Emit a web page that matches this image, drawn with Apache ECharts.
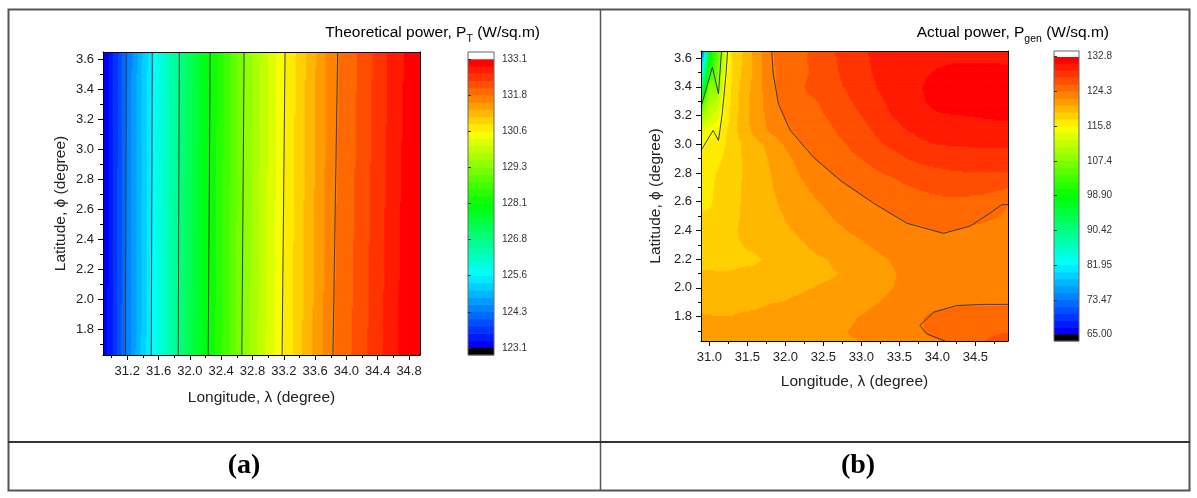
<!DOCTYPE html>
<html><head><meta charset="utf-8">
<script src="https://cdn.jsdelivr.net/npm/echarts@6/dist/echarts.min.js"></script>
<style>html,body{margin:0;padding:0;background:#fff}#c{width:1197px;height:498px}</style>
</head><body><div id="c"></div>
<script>
// ================= DATA =================
// (a) Theoretical power P_T : grid of longitude x latitude
const lonT = [30.89, 31.0, 31.1, 31.2, 31.3, 31.4, 31.5, 31.6, 31.7, 31.8, 31.9, 32.0, 32.1, 32.2, 32.3, 32.4, 32.5, 32.6, 32.7, 32.8, 32.9, 33.0, 33.1, 33.2, 33.3, 33.4, 33.5, 33.6, 33.7, 33.8, 33.9, 34.0, 34.1, 34.2, 34.3, 34.4, 34.5, 34.6, 34.7, 34.8, 34.9, 34.94];
const latT = [1.63, 3.65];
const pT_lat163 = [123.1, 123.55, 124.00, 124.44, 124.82, 125.20, 125.57, 125.94, 126.30, 126.66, 127.01, 127.34, 127.66, 127.99, 128.29, 128.58, 128.87, 129.16, 129.44, 129.68, 129.92, 130.17, 130.41, 130.64, 130.83, 131.03, 131.22, 131.41, 131.60, 131.80, 131.92, 132.03, 132.14, 132.26, 132.39, 132.52, 132.65, 132.78, 132.90, 132.98, 133.07, 133.10];
const pT_lat365 = [123.05, 123.49, 123.94, 124.38, 124.75, 125.13, 125.50, 125.87, 126.22, 126.58, 126.93, 127.26, 127.58, 127.91, 128.21, 128.50, 128.79, 129.08, 129.36, 129.60, 129.84, 130.09, 130.33, 130.56, 130.75, 130.95, 131.14, 131.33, 131.52, 131.72, 131.84, 131.95, 132.06, 132.18, 132.31, 132.44, 132.57, 132.70, 132.82, 132.91, 133.00, 133.04];
// contour lines of (a): longitude where each line meets bottom / top edge
const tLineBottom = [31.176, 31.507, 31.851, 32.234, 32.664, 33.178, 33.828];
const tLineTop    = [31.189, 31.520, 31.865, 32.260, 32.693, 33.216, 33.888];
const tRange = [123.1, 133.1];
const tBarTicks  = [123.1, 124.35, 125.6, 126.85, 128.1, 129.35, 130.6, 131.85, 133.1];
const tBarLabels = ['123.1', '124.3', '125.6', '126.8', '128.1', '129.3', '130.6', '131.8', '133.1'];
const tXTicks = [31.2, 31.6, 32.0, 32.4, 32.8, 33.2, 33.6, 34.0, 34.4, 34.8];
const tXMinor = [31.0, 31.4, 31.8, 32.2, 32.6, 33.0, 33.4, 33.8, 34.2, 34.6];

// (b) Actual power P_gen : grid of longitude x latitude
const lonG = [30.89, 31.0, 31.1, 31.2, 31.3, 31.4, 31.6, 31.8, 32.0, 32.2, 32.4, 32.6, 32.8, 33.0, 33.2, 33.4, 33.6, 33.8, 34.0, 34.2, 34.4, 34.6, 34.8, 34.93];
const latG = [1.63, 1.7, 1.8, 1.9, 2.0, 2.1, 2.2, 2.4, 2.6, 2.8, 2.9, 3.0, 3.1, 3.2, 3.3, 3.4, 3.5, 3.65];
const pGen163 = [121.5, 121.5, 121.5, 121.5, 121.6, 121.6, 121.7, 121.9, 122.0, 122.2, 122.4, 122.5, 122.5, 122.6, 122.9, 123.3, 123.6, 123.9, 124.2, 124.8, 125.4, 126.0, 126.4, 126.6];
const pGen170 = [121.3, 121.3, 121.3, 121.3, 121.3, 121.4, 121.5, 121.7, 121.8, 122.0, 122.2, 122.4, 122.6, 122.9, 123.3, 123.7, 124.0, 124.3, 124.8, 125.2, 125.4, 125.7, 125.9, 125.9];
const pGen180 = [121.0, 121.0, 121.0, 121.0, 121.0, 121.1, 121.2, 121.4, 121.5, 121.7, 121.9, 122.1, 122.4, 122.7, 123.1, 123.5, 123.9, 124.3, 124.7, 124.9, 125.0, 125.0, 125.0, 125.0];
const pGen190 = [120.6, 120.6, 120.5, 120.5, 120.5, 120.6, 120.7, 120.9, 121.0, 121.2, 121.4, 121.6, 121.9, 122.2, 122.6, 122.9, 123.3, 123.7, 124.0, 124.1, 124.2, 124.2, 124.2, 124.2];
const pGen200 = [120.2, 120.1, 120.0, 119.9, 119.9, 120.0, 120.2, 120.4, 120.6, 120.8, 121.0, 121.2, 121.5, 121.9, 122.3, 122.6, 123.0, 123.3, 123.5, 123.6, 123.7, 123.7, 123.7, 123.7];
const pGen210 = [119.4, 119.4, 119.3, 119.3, 119.3, 119.35, 119.5, 119.8, 120.1, 120.4, 120.6, 120.8, 121.1, 121.5, 122.0, 122.5, 122.9, 123.1, 123.3, 123.4, 123.5, 123.5, 123.5, 123.5];
const pGen220 = [118.8, 118.9, 119.0, 119.0, 119.1, 119.1, 119.1, 119.4, 119.9, 120.3, 120.7, 121.0, 121.4, 121.8, 122.3, 122.7, 123.0, 123.2, 123.3, 123.4, 123.4, 123.4, 123.35, 123.3];
const pGen240 = [118.0, 118.3, 118.6, 118.9, 119.1, 119.3, 119.7, 120.2, 120.7, 121.2, 121.7, 122.2, 122.6, 123.0, 123.4, 123.7, 124.0, 124.1, 124.4, 124.3, 124.1, 123.9, 123.7, 123.5];
const pGen260 = [117.3, 117.3, 117.9, 118.4, 118.8, 119.2, 119.9, 120.6, 121.3, 121.9, 122.5, 123.0, 123.5, 124.0, 124.4, 124.8, 125.1, 125.4, 125.6, 125.7, 125.6, 125.4, 125.0, 124.45];
const pGen280 = [116.8, 117.2, 117.6, 118.1, 118.6, 119.1, 120.0, 120.9, 121.8, 122.7, 123.5, 124.3, 124.9, 125.4, 125.85, 126.2, 126.6, 127.0, 127.3, 127.5, 127.6, 127.65, 127.6, 127.6];
const pGen290 = [116.3, 116.8, 117.2, 117.8, 118.5, 119.1, 120.1, 121.1, 122.1, 123.2, 124.4, 125.1, 125.6, 126.0, 126.5, 127.0, 127.7, 128.1, 128.4, 128.5, 128.6, 128.6, 128.6, 128.6];
const pGen300 = [115.4, 116.3, 116.6, 117.4, 118.5, 119.1, 120.3, 121.4, 122.8, 124.2, 125.0, 125.6, 126.0, 126.6, 127.4, 128.0, 128.6, 129.1, 129.4, 129.5, 129.55, 129.6, 129.6, 129.6];
const pGen310 = [113.0, 115.0, 115.5, 117.2, 118.4, 119.6, 121.5, 122.9, 124.0, 124.9, 125.5, 125.85, 126.5, 127.2, 127.95, 128.7, 129.4, 129.9, 130.2, 130.4, 130.5, 130.6, 130.6, 130.6];
const pGen320 = [109.0, 112.0, 113.5, 116.0, 118.3, 119.6, 121.7, 123.2, 124.45, 125.2, 125.7, 126.2, 126.9, 127.7, 128.5, 129.4, 130.1, 130.6, 130.95, 131.0, 131.08, 131.2, 131.3, 131.35];
const pGen330 = [103.0, 110.0, 111.0, 115.9, 118.0, 119.5, 121.8, 123.4, 125.0, 125.5, 125.9, 126.6, 127.4, 128.2, 129.0, 129.8, 130.5, 131.0, 131.5, 131.8, 132.0, 132.2, 132.3, 132.3];
const pGen340 = [90.0, 108.5, 107.3, 115.6, 117.8, 119.3, 121.6, 123.7, 125.4, 125.85, 126.6, 127.3, 127.8, 128.7, 129.4, 130.1, 130.6, 131.1, 131.6, 131.9, 132.1, 132.2, 132.3, 132.3];
const pGen350 = [82.0, 102.0, 106.0, 114.5, 117.6, 119.0, 121.4, 123.9, 125.1, 125.7, 126.3, 127.3, 128.1, 128.9, 129.6, 130.2, 130.6, 130.95, 131.2, 131.35, 131.4, 131.45, 131.45, 131.4];
const pGen365 = [68.0, 98.0, 104.0, 112.0, 117.5, 118.7, 121.3, 124.15, 125.0, 125.6, 126.5, 127.5, 128.3, 129.1, 129.8, 130.2, 130.5, 130.7, 130.8, 130.8, 130.8, 130.7, 130.7, 130.6];
// contour lines of (b): [longitude, latitude]
const gLine124a = [[31.82,3.65],[31.84,3.49],[31.91,3.28],[32.06,3.10],[32.37,2.91],[32.72,2.75],[33.16,2.59],[33.60,2.45],[34.08,2.38],[34.43,2.43],[34.69,2.52],[34.85,2.58],[34.93,2.58]];
const gLine124b = [[34.93,1.885],[34.6,1.885],[34.255,1.877],[33.95,1.83],[33.77,1.738],[33.86,1.68],[34.10,1.63]];
const gLine115  = [[30.89,2.957],[31.05,3.097],[31.12,3.027],[31.17,3.215],[31.22,3.494],[31.24,3.65]];
const gLine107  = [[30.89,3.259],[31.04,3.538],[31.12,3.352],[31.16,3.65]];
const gRange = [65.0, 132.8];
const gBarTicks  = [65.0, 73.475, 81.95, 90.425, 98.9, 107.375, 115.85, 124.325, 132.8];
const gBarLabels = ['65.00', '73.47', '81.95', '90.42', '98.90', '107.4', '115.8', '124.3', '132.8'];
const gXTicks = [31.0, 31.5, 32.0, 32.5, 33.0, 33.5, 34.0, 34.5];
const gXMinor = [31.25, 31.75, 32.25, 32.75, 33.25, 33.75, 34.25, 34.75];

const yTicks = [1.8, 2.0, 2.2, 2.4, 2.6, 2.8, 3.0, 3.2, 3.4, 3.6];
const yMinor = [1.7, 1.9, 2.1, 2.3, 2.5, 2.7, 2.9, 3.1, 3.3, 3.5];

// ================= HELPERS =================
const FONT = '"Liberation Sans", Arial, sans-serif';
const LEVELS = 40;
function rainbow(t) {
  const st = [[0,0,255],[0,255,255],[0,255,0],[255,255,0],[255,0,0]];
  const s = Math.min(3.99999, Math.max(0, t * 4));
  const i = Math.floor(s), f = s - i, a = st[i], b = st[i + 1];
  return 'rgb(' + Math.round(a[0] + (b[0]-a[0])*f) + ',' + Math.round(a[1] + (b[1]-a[1])*f) + ',' + Math.round(a[2] + (b[2]-a[2])*f) + ')';
}
const palette = [];
for (let k = 0; k < LEVELS; k++) palette.push(rainbow(k / (LEVELS - 1)));
function bandIndex(v, r) {
  let k = Math.floor((v - r[0]) / (r[1] - r[0]) * LEVELS);
  return Math.max(0, Math.min(LEVELS - 1, k));
}
function buildCells(lons, lats, rows) {
  const out = [];
  for (let j = 0; j < lats.length - 1; j++)
    for (let i = 0; i < lons.length - 1; i++)
      out.push([lons[i], lats[j], lons[i+1], lats[j+1], rows[j][i], rows[j][i+1], rows[j+1][i], rows[j+1][i+1]]);
  return out;
}
function fillRenderer(range, stepX, stepY) {
  return function (params, api) {
    const p0 = api.coord([api.value(0), api.value(1)]);
    const p1 = api.coord([api.value(2), api.value(3)]);
    const v00 = api.value(4), v10 = api.value(5), v01 = api.value(6), v11 = api.value(7);
    const W = p1[0] - p0[0], H = p0[1] - p1[1];
    const nx = Math.max(1, Math.ceil(W / stepX)), ny = Math.max(1, Math.ceil(H / stepY));
    const children = [];
    for (let j = 0; j < ny; j++) {
      const t = (j + 0.5) / ny;
      const yTop = p0[1] - (j + 1) * H / ny;
      let runStart = 0, runK = -1;
      for (let i = 0; i <= nx; i++) {
        let k = -2;
        if (i < nx) {
          const u = (i + 0.5) / nx;
          const v = v00*(1-u)*(1-t) + v10*u*(1-t) + v01*(1-u)*t + v11*u*t;
          k = bandIndex(v, range);
        }
        if (k !== runK) {
          if (runK >= 0) children.push({type: 'rect', shape: {x: p0[0] + runStart * W / nx, y: yTop, width: (i - runStart) * W / nx + 0.7, height: H / ny + 0.7}, style: {fill: palette[runK]}});
          runK = k; runStart = i;
        }
      }
    }
    return {type: 'group', children};
  };
}
function barData(range) {
  const d = [];
  const step = (range[1] - range[0]) / LEVELS;
  for (let k = 0; k < LEVELS; k++) d.push([range[0] + k * step, range[0] + (k + 1) * step, k]);
  return d;
}
function barRenderer() {
  return function (params, api) {
    const a = api.value(0), b = api.value(1), k = api.value(2);
    const pA = api.coord([0, a]), pB = api.coord([1, b]);
    if (k === -3) {
      return {type: 'rect', shape: {x: pA[0], y: pB[1], width: pB[0] - pA[0], height: pA[1] - pB[1]}, style: {fill: 'none', stroke: '#666', lineWidth: 1}, z2: 10};
    }
    const fill = k === -1 ? '#000' : (k === -2 ? '#fff' : palette[k]);
    return {type: 'rect', shape: {x: pA[0], y: pB[1] - 0.3, width: pB[0] - pA[0], height: pA[1] - pB[1] + 0.6}, style: {fill: fill}};
  };
}
function mainX(grid, min, max, ticks, name, gap) {
  return {type: 'value', gridIndex: grid, min, max, position: 'bottom', z: 6,
    axisLine: {show: true, onZero: false, lineStyle: {color: '#000', width: 1}},
    axisTick: {show: true, customValues: ticks, length: 5, inside: false, lineStyle: {color: '#000'}},
    axisLabel: {show: true, customValues: ticks, margin: 10, fontSize: 13, color: '#222', fontFamily: FONT, formatter: v => v.toFixed(1)},
    splitLine: {show: false},
    name, nameLocation: 'middle', nameGap: gap, nameTextStyle: {fontSize: 15.5, color: '#222', fontFamily: FONT}};
}
function minorX(grid, min, max, ticks) {
  return {type: 'value', gridIndex: grid, min, max, position: 'bottom', z: 6,
    axisLine: {show: false}, axisLabel: {show: false}, splitLine: {show: false},
    axisTick: {show: true, customValues: ticks, length: 3, lineStyle: {color: '#000'}}};
}
function frameX(grid, min, max) {
  return {type: 'value', gridIndex: grid, min, max, position: 'top', z: 6,
    axisLine: {show: true, onZero: false, lineStyle: {color: '#000', width: 1}},
    axisTick: {show: false}, axisLabel: {show: false}, splitLine: {show: false}};
}
function mainY(grid, min, max, name, gap) {
  return {type: 'value', gridIndex: grid, min, max, position: 'left', z: 6,
    axisLine: {show: true, onZero: false, lineStyle: {color: '#000', width: 1}},
    axisTick: {show: true, customValues: yTicks, length: 5, lineStyle: {color: '#000'}},
    axisLabel: {show: true, customValues: yTicks, margin: 9, fontSize: 13, color: '#222', fontFamily: FONT, formatter: v => v.toFixed(1)},
    splitLine: {show: false},
    name, nameLocation: 'middle', nameGap: gap, nameTextStyle: {fontSize: 15.5, color: '#222', fontFamily: FONT}};
}
function minorY(grid, min, max) {
  return {type: 'value', gridIndex: grid, min, max, position: 'left', z: 6,
    axisLine: {show: false}, axisLabel: {show: false}, splitLine: {show: false},
    axisTick: {show: true, customValues: yMinor, length: 3, lineStyle: {color: '#000'}}};
}
function frameY(grid, min, max) {
  return {type: 'value', gridIndex: grid, min, max, position: 'right', z: 6,
    axisLine: {show: true, onZero: false, lineStyle: {color: '#000', width: 1}},
    axisTick: {show: false}, axisLabel: {show: false}, splitLine: {show: false}};
}
function barX(grid) {
  return {type: 'value', gridIndex: grid, min: 0, max: 1, show: false};
}
function barY(grid, min, max, ticks, labels) {
  return {type: 'value', gridIndex: grid, min, max, position: 'right', z: 6,
    axisLine: {show: false}, splitLine: {show: false},
    axisTick: {show: true, customValues: ticks, length: 3, lineStyle: {color: '#333'}},
    axisLabel: {show: true, customValues: ticks, margin: 8, fontSize: 10, color: '#333', fontFamily: FONT,
      formatter: v => { let bi = 0; ticks.forEach((t, i) => { if (Math.abs(t - v) < Math.abs(ticks[bi] - v)) bi = i; }); return labels[bi]; }}};
}
function contourSeries(xi, yi, pts) {
  return {type: 'line', xAxisIndex: xi, yAxisIndex: yi, data: pts, showSymbol: false, symbol: 'none', silent: true,
    lineStyle: {color: '#3c3c3c', width: 1}, z: 4, animation: false, clip: true};
}

// ================= OPTION =================
const tX = [30.89, 34.94], Y = [1.63, 3.65], gX = [30.89, 34.93];
const tBarAxis = [122.8575, 133.3425], gBarAxis = [63.44, 134.19];
const rowsT = [pT_lat163, pT_lat365];
const rowsG = [pGen163, pGen170, pGen180, pGen190, pGen200, pGen210, pGen220, pGen240, pGen260, pGen280, pGen290, pGen300, pGen310, pGen320, pGen330, pGen340, pGen350, pGen365];

const series = [];
series.push({type: 'custom', xAxisIndex: 0, yAxisIndex: 0, clip: true, silent: true, animation: false, z: 2,
  renderItem: fillRenderer(tRange, 1.5, 3), encode: {x: [0, 2], y: [1, 3]}, data: buildCells(lonT, latT, rowsT)});
tLineBottom.forEach((b, i) => series.push(contourSeries(0, 0, [[b, Y[0]], [tLineTop[i], Y[1]]])));
const tb = barData(tRange);
tb.push([tBarAxis[0], tRange[0], -1], [tRange[1], tBarAxis[1], -2], [tBarAxis[0], tBarAxis[1], -3]);
series.push({type: 'custom', xAxisIndex: 3, yAxisIndex: 3, silent: true, animation: false, clip: false,
  renderItem: barRenderer(), encode: {y: [0, 1]}, data: tb});

series.push({type: 'custom', xAxisIndex: 4, yAxisIndex: 4, clip: true, silent: true, animation: false, z: 2,
  renderItem: fillRenderer(gRange, 1.5, 1.5), encode: {x: [0, 2], y: [1, 3]}, data: buildCells(lonG, latG, rowsG)});
[gLine124a, gLine124b, gLine115, gLine107].forEach(l => series.push(contourSeries(4, 4, l)));
const gb = barData(gRange);
gb.push([gBarAxis[0], gRange[0], -1], [gRange[1], gBarAxis[1], -2], [gBarAxis[0], gBarAxis[1], -3]);
series.push({type: 'custom', xAxisIndex: 7, yAxisIndex: 7, silent: true, animation: false, clip: false,
  renderItem: barRenderer(), encode: {y: [0, 1]}, data: gb});

const titleRich = {
  a: {fontSize: 15.5, fontFamily: FONT, color: '#1a1a1a', lineHeight: 24},
  s: {fontSize: 10.5, fontFamily: FONT, color: '#1a1a1a', lineHeight: 11, verticalAlign: 'bottom'}
};

const option = {
  backgroundColor: '#fff',
  animation: false,
  grid: [
    {left: 103, top: 52, width: 317, height: 303, containLabel: false},
    {left: 468, top: 52, width: 26, height: 303},
    {left: 701, top: 51, width: 307, height: 290},
    {left: 1054, top: 51, width: 25, height: 290}
  ],
  xAxis: [
    mainX(0, tX[0], tX[1], tXTicks, 'Longitude, λ (degree)', 35), minorX(0, tX[0], tX[1], tXMinor), frameX(0, tX[0], tX[1]), barX(1),
    mainX(2, gX[0], gX[1], gXTicks, 'Longitude, λ (degree)', 33), minorX(2, gX[0], gX[1], gXMinor), frameX(2, gX[0], gX[1]), barX(3)
  ],
  yAxis: [
    mainY(0, Y[0], Y[1], 'Latitude, ϕ (degree)', 34), minorY(0, Y[0], Y[1]), frameY(0, Y[0], Y[1]), barY(1, tBarAxis[0], tBarAxis[1], tBarTicks, tBarLabels),
    mainY(2, Y[0], Y[1], 'Latitude, ϕ (degree)', 37), minorY(2, Y[0], Y[1]), frameY(2, Y[0], Y[1]), barY(3, gBarAxis[0], gBarAxis[1], gBarTicks, gBarLabels)
  ],
  series,
  graphic: [
    {type: 'rect', z: 100, shape: {x: 8.5, y: 9.5, width: 1181, height: 481}, style: {fill: 'none', stroke: '#555', lineWidth: 2}},
    {type: 'line', z: 100, shape: {x1: 600.5, y1: 9, x2: 600.5, y2: 491}, style: {stroke: '#555', lineWidth: 1.5}},
    {type: 'line', z: 100, shape: {x1: 8, y1: 442, x2: 1190, y2: 442}, style: {stroke: '#333', lineWidth: 2}},
    {type: 'text', z: 100, x: 244, y: 466, style: {text: '(a)', font: 'bold 28px "Liberation Serif", "Times New Roman", serif', textAlign: 'center', textVerticalAlign: 'middle', fill: '#000'}},
    {type: 'text', z: 100, x: 858, y: 466, style: {text: '(b)', font: 'bold 28px "Liberation Serif", "Times New Roman", serif', textAlign: 'center', textVerticalAlign: 'middle', fill: '#000'}},
    {type: 'text', z: 100, x: 540, y: 33, style: {text: '{a|Theoretical power, P}{s|T}{a| (W/sq.m)}', rich: titleRich, textAlign: 'right', textVerticalAlign: 'middle'}},
    {type: 'text', z: 100, x: 1109, y: 33, style: {text: '{a|Actual power, P}{s|gen}{a| (W/sq.m)}', rich: titleRich, textAlign: 'right', textVerticalAlign: 'middle'}}
  ]
};
const chart = echarts.init(document.getElementById('c'), null, {renderer: 'canvas'});
chart.setOption(option);
</script></body></html>
